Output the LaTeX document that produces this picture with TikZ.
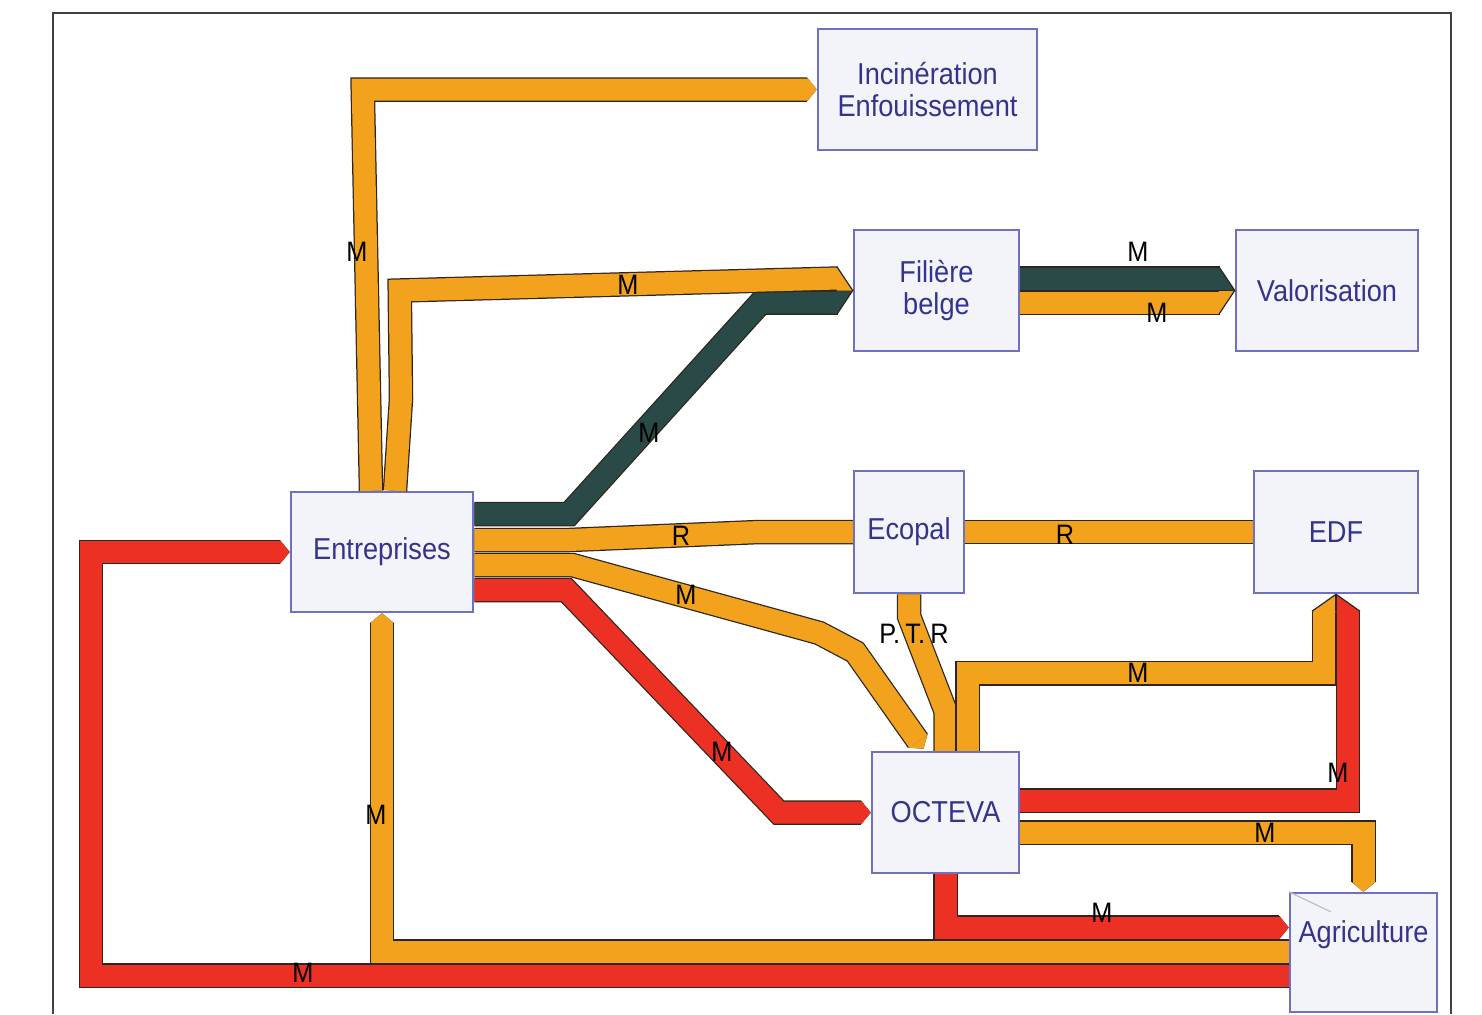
\documentclass[tikz,border=0pt]{standalone}
\usepackage{fontspec}
\setmainfont{Liberation Sans}[FakeStretch=0.9]
\usetikzlibrary{calc,arrows.meta}
\definecolor{boxdraw}{RGB}{112,112,192}
\definecolor{boxfill}{RGB}{243,244,250}
\definecolor{boxtext}{RGB}{52,52,140}
\definecolor{bandor}{RGB}{243,162,30}
\definecolor{bandred}{RGB}{236,49,36}
\definecolor{bandteal}{RGB}{42,74,72}
\definecolor{bandline}{RGB}{45,38,30}
\tikzset{
  box/.style={draw=boxdraw, fill=boxfill, line width=0.25mm, text=boxtext, align=center,
    font=\fontsize{8.6}{9.3}\selectfont},
  lab/.style={inner sep=0pt, text=black, font=\fontsize{8}{9}\selectfont},
  band/.style={line width=2.2mm, line join=miter, preaction={draw=bandline, line width=2.45mm}},
  bandtip/.style={line width=2.2mm, line join=miter, -{Triangle[length=0.9mm,width=2.2mm,line width=0pt]},
    preaction={draw=bandline, line width=2.45mm, -{Triangle[length=1mm,width=2.45mm,line width=0pt]}}},
  tipline/.style={draw=bandline, line width=0.12mm},
}

\begin{document}
\begin{tikzpicture}[x=0.1mm, y=-0.1mm]
	\useasboundingbox (0,0) rectangle (1482,1014);
	%%%%% FRAME %%%%%
	\draw[black!75, line width=0.2mm] (53,1014) -- (53,13) -- (1451,13) -- (1451,1014);
	
	%%%%% BOXES %%%%%
	\node[box, minimum width=21.9mm, minimum height=12.1mm] (inc) at (927.5,89.5) {Incinération\\Enfouissement};
	\node[box, minimum width=16.5mm, minimum height=12.1mm] (fil) at (936.5,290.5) {Filière\\belge};
	\node[box, minimum width=18.2mm, minimum height=12.1mm] (val) at (1327,290.5) {Valorisation};
	\node[box, minimum width=18.2mm, minimum height=12mm] (ent) at (382,552) {Entreprises};
	\node[box, minimum width=11mm, minimum height=12.2mm] (eco) at (909,532) {Ecopal};
	\node[box, minimum width=16.4mm, minimum height=12.2mm] (edf) at (1336,532) {EDF};
	\node[box, minimum width=14.7mm, minimum height=12.1mm] (oct) at (945.5,812.5) {OCTEVA};
	\node[box, minimum width=14.7mm, minimum height=11.9mm, inner xsep=0.3mm, text height=6.3pt, text depth=11.8pt] (agr) at (1363.5,952.5) {Agriculture};
	\draw[gray!50, line width=0.12mm] (agr.north west) -- ++(42,20);
	
	%%%%% FLOWS FROM ENTREPRISES %%%%%
	\draw[bandtip, bandor] ($(ent.north)+(-11,0)$) -- ($(inc.west)+(-454,0)$) -- (inc.west);
	
	\draw[band, bandteal] ($(ent.east)+(0,-38)$) -- ($(ent.east)+(95,-38)$) -- ($(fil.west)+(-92,12)$) -- ($(fil.west)+(-15,12)$);
	\fill[bandteal] ($(fil.west)+(-16,0)$) -- (fil.west) -- ($(fil.west)+(-16,24)$) -- cycle;
	\draw[tipline] ($(fil.west)+(-16,24)$) -- (fil.west) -- ($(fil.west)+(-16,0)$);
	
	\draw[band, bandor] ($(ent.north)+(13,0)$) -- ($(ent.north)+(19,-92)$) -- ($(fil.west)+(-453,0)$) -- ($(fil.west)+(-15,-12)$);
	\fill[bandor] ($(fil.west)+(-16,-24)$) -- (fil.west) -- ($(fil.west)+(-16,0)$) -- cycle;
	\draw[tipline] ($(fil.west)+(-16,-24)$) -- (fil.west);
	
	\draw[band, bandor] ($(ent.east)+(0,-12)$) -- ($(ent.east)+(95,-12)$) -- ($(eco.west)+(-94,0)$) -- (eco.west);
	\draw[bandtip, bandor] ($(ent.east)+(0,13)$) -- ($(ent.east)+(98,13)$) -- ($(ent.east)+(345,81)$) -- ($(ent.east)+(381,100)$) -- ($(oct.north)+(-22,-2)$);
	\draw[bandtip, bandred] ($(ent.east)+(0,38)$) -- ($(ent.east)+(92,38)$) -- ($(oct.west)+(-92,0)$) -- (oct.west);
	
	%%%%% FILIERE, ECOPAL %%%%%
	\draw[band, bandteal] ($(fil.east)+(0,-12)$) -- ($(val.west)+(-15,-12)$);
	\draw[band, bandor] ($(fil.east)+(0,12)$) -- ($(val.west)+(-15,12)$);
	\fill[bandteal] ($(val.west)+(-16,-24)$) -- (val.west) -- ($(val.west)+(-16,0)$) -- cycle;
	\fill[bandor] ($(val.west)+(-16,0)$) -- (val.west) -- ($(val.west)+(-16,24)$) -- cycle;
	\draw[tipline] ($(val.west)+(-16,-24)$) -- (val.west) -- ($(val.west)+(-16,24)$);
	\draw[tipline] ($(val.west)+(-16,0)$) -- (val.west);
	
	\draw[band, bandor] (eco.east) -- (edf.west);
	\draw[band, bandor] (eco.south) -- ($(eco.south)+(0,22)$) -- ($(oct.north)+(0,-40)$) -- (oct.north);
	
	%%%%% FLOWS FROM OCTEVA %%%%%
	\draw[band, bandor] ($(oct.north)+(22,0)$) |- ($(edf.south)+(-12,79)$) -- ($(edf.south)+(-12,16)$);
	\draw[band, bandred] ($(oct.east)+(0,-12)$) -| ($(edf.south)+(12,16)$);
	\fill[bandor] ($(edf.south)+(-24,17)$) -- (edf.south) -- ($(edf.south)+(0,17)$) -- cycle;
	\fill[bandred] ($(edf.south)+(0,17)$) -- (edf.south) -- ($(edf.south)+(24,17)$) -- cycle;
	\draw[tipline] ($(edf.south)+(-24,17)$) -- (edf.south) -- ($(edf.south)+(24,17)$);
	\draw[tipline] ($(edf.south)+(0,17)$) -- (edf.south);
	
	\draw[bandtip, bandor] ($(oct.east)+(0,20)$) -| (agr.north);
	\draw[bandtip, bandred] (oct.south) |- ($(agr.west)+(0,-25)$);
	
	%%%%% FLOWS FROM AGRICULTURE %%%%%
	\draw[bandtip, bandor] ($(agr.west)+(0,-1)$) -| (ent.south);
	\draw[bandtip, bandred] ($(agr.west)+(0,23)$) -- ($(agr.west)+(-1198,23)$) |- (ent.west);
	
	%%%%% LABELS %%%%%
	\node[lab] (lA) at (357,252) {M};
	\node[lab] (lB) at (628,285) {M};
	\node[lab] (lC) at (649,433) {M};
	\node[lab] (lD) at (1138,252) {M};
	\node[lab] (lE) at (1157,313) {M};
	\node[lab] (lF) at (681,536) {R};
	\node[lab] (lG) at (1065,535) {R};
	\node[lab] (lH) at (686,595) {M};
	\node[lab] (lI) at (914,634) {P.\kern1.5pt T.\kern1.5pt R};
	\node[lab] (lJ) at (1138,673) {M};
	\node[lab] (lK) at (722,752) {M};
	\node[lab] (lL) at (1338,773) {M};
	\node[lab] (lM) at (1265,833) {M};
	\node[lab] (lN) at (376,815) {M};
	\node[lab] (lO) at (1102,913) {M};
	\node[lab] (lP) at (303,973) {M};
\end{tikzpicture}
\end{document}
